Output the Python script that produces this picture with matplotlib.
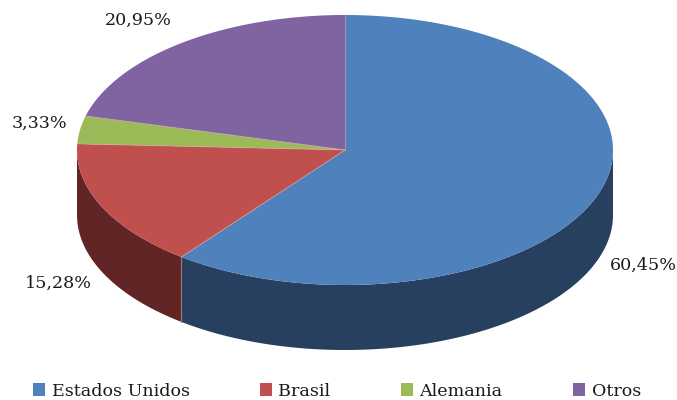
import numpy as np
import matplotlib
matplotlib.use('Agg')
import matplotlib.pyplot as plt
from matplotlib.patches import Patch, Polygon

# Data
categories = ['Estados Unidos', 'Brasil', 'Alemania', 'Otros']
shares = [60.45, 15.28, 3.33, 20.95]
top_colors = ['#4F81BD', '#C0504D', '#9BBB59', '#8064A2']
side_colors = ['#27405F', '#612525', '#4E5E2C', '#403151']

# Pie geometry in pixels
cx, cy = 345, 150
rx, ry = 268, 135
depth = 65

# where the labels sit (left edge, baseline centre)
label_pos = [(610, 265), (25, 283), (12, 123), (105, 20)]

plt.rcParams['font.family'] = ['DejaVu Serif']

fig = plt.figure(figsize=(6.77, 4.0), dpi=100)
ax = fig.add_axes([0, 0, 1, 1])
ax.set_xlim(0, 677)
ax.set_ylim(400, 0)
ax.axis('off')


def rim(a0, a1):
    # angles clockwise from 12 o'clock, degrees
    t = np.radians(np.linspace(a0, a1, 200))
    return cx + rx * np.sin(t), cy - ry * np.cos(t)


edges = np.concatenate([[0], np.cumsum(shares)]) / sum(shares) * 360

# side wall, only the front half of the pie shows (90 to 270 degrees)
for i in range(len(shares)):
    a0 = max(edges[i], 90)
    a1 = min(edges[i + 1], 270)
    if a1 <= a0:
        continue
    x, y = rim(a0, a1)
    pts = np.column_stack([np.r_[x, x[::-1]], np.r_[y, y[::-1] + depth]])
    ax.add_patch(Polygon(pts, closed=True, fc=side_colors[i], ec='none', zorder=1))

# seam on the wall between blue and red
x, y = rim(edges[1], edges[1])
ax.plot([x[0], x[0]], [y[0], y[0] + depth], color='#A07A78', lw=0.8, zorder=2)

# top face
for i in range(len(shares)):
    x, y = rim(edges[i], edges[i + 1])
    pts = np.column_stack([np.r_[cx, x], np.r_[cy, y]])
    ax.add_patch(Polygon(pts, closed=True, fc=top_colors[i], ec='none', zorder=3))
    ax.plot([cx, x[0]], [cy, y[0]], color='#D8A9A0', lw=0.6, alpha=0.7, zorder=4)

for val, (lx, ly) in zip(shares, label_pos):
    ax.text(lx, ly, f'{val:.2f}%'.replace('.', ','), fontsize=12.6, color='#1a1a1a',
            ha='left', va='center', zorder=5)

handles = [Patch(fc=c, ec='none') for c in top_colors]
ax.legend(handles, categories, ncol=4, loc='center', bbox_to_anchor=(337 / 677, 1 - 391 / 400),
          frameon=False, fontsize=12.6, columnspacing=4.03, handlelength=0.7, handleheight=0.7,
          handletextpad=0.35, labelcolor='#1a1a1a')

fig.savefig('out.png', dpi=100)
